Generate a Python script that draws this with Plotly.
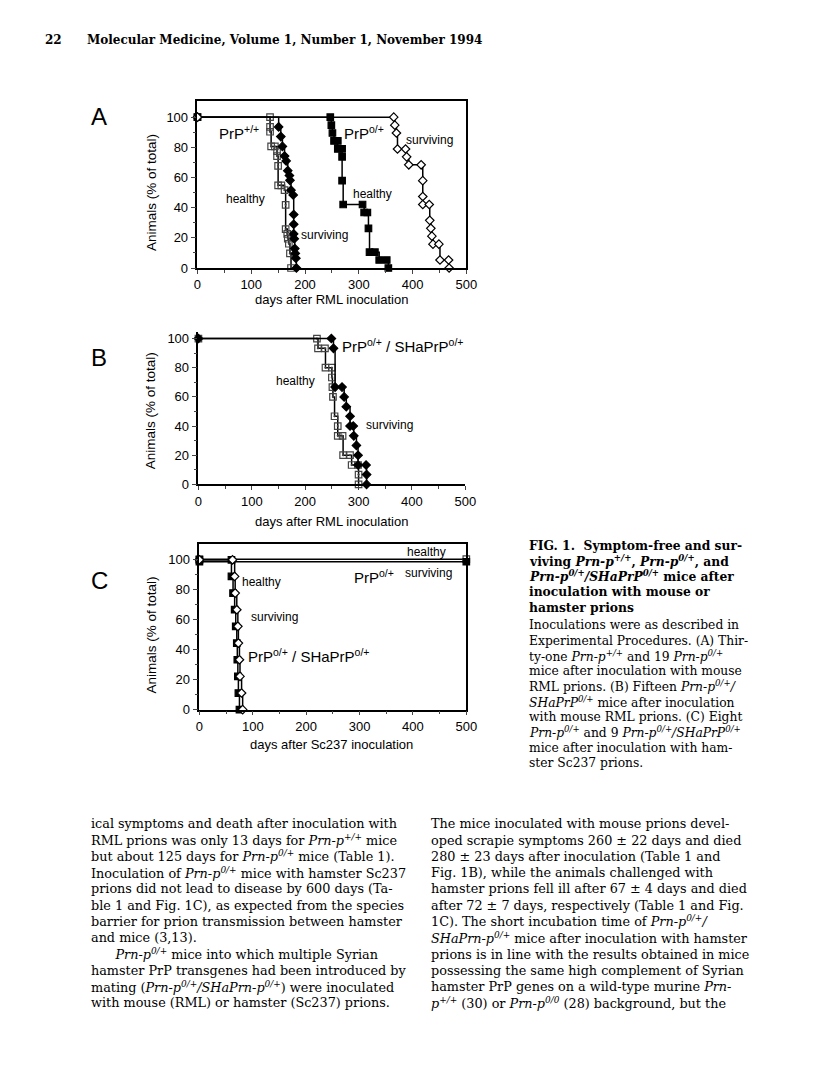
import plotly.graph_objs as go

# Panel A: PrP+/+ (31 mice) and PrP0/+ (19 mice), RML inoculation
a_wt_healthy_days = [0, 135, 135, 135, 137, 144, 148, 148, 150, 150, 156, 162, 164, 164, 167, 168, 170, 172, 174]
a_wt_healthy_pct = [100, 100, 93.5, 90.3, 80.6, 80.6, 77.4, 74.2, 67.7, 54.8, 54.8, 51.6, 41.9, 25.8, 22.6, 19.4, 16.1, 9.7, 0]
a_wt_surv_days = [0, 151, 155, 158, 162, 165, 168, 171, 172, 174, 178, 179, 179, 179, 180, 181, 182, 183, 184]
a_wt_surv_pct = [100, 93.5, 87.1, 80.6, 74.2, 71.0, 64.5, 61.3, 58.1, 51.6, 48.4, 35.5, 29.0, 22.6, 19.4, 12.9, 9.7, 6.5, 0]
a_ko_healthy_days = [0, 247, 249, 251, 254, 261, 261, 269, 269, 269, 271, 307, 310, 316, 318, 320, 330, 338, 352, 355]
a_ko_healthy_pct = [100, 100, 94.7, 89.5, 84.2, 84.2, 78.9, 78.9, 73.7, 57.9, 42.1, 42.1, 36.8, 36.8, 26.3, 10.5, 10.5, 5.3, 5.3, 0]
a_ko_surv_days = [0, 365, 367, 370, 372, 387, 389, 393, 416, 419, 419, 419, 431, 432, 434, 436, 438, 449, 451, 467, 468]
a_ko_surv_pct = [100, 100, 94.7, 89.5, 78.9, 78.9, 73.7, 68.4, 68.4, 57.9, 47.4, 42.1, 42.1, 31.6, 26.3, 21.1, 15.8, 15.8, 5.3, 5.3, 0]

# Panel B: PrP0/+ / SHaPrP0/+ (15 mice), RML inoculation
b_healthy_days = [0, 222, 224, 237, 238, 250, 250, 251, 252, 255, 261, 261, 270, 271, 284, 287, 299, 300, 300]
b_healthy_pct = [100, 100, 93.3, 93.3, 80, 80, 73.3, 66.7, 60, 46.7, 40, 33.3, 33.3, 20, 20, 13.3, 13.3, 6.7, 0]
b_surv_days = [0, 249, 253, 256, 269, 273, 277, 284, 284, 290, 291, 296, 299, 299, 314, 315, 315]
b_surv_pct = [100, 100, 93.3, 66.7, 66.7, 60, 53.3, 46.7, 40, 40, 33.3, 26.7, 20, 13.3, 13.3, 6.7, 0]

# Panel C: Sc237 inoculation
c_ko_healthy_days = [0, 500]
c_ko_healthy_pct = [100.4, 100.4]
c_ko_surv_days = [0, 500]
c_ko_surv_pct = [98.7, 98.7]
c_tg_healthy_days = [0, 60, 60, 63, 66, 68, 70, 71, 72, 73, 75]
c_tg_healthy_pct = [100, 100, 88.9, 77.8, 66.7, 55.6, 44.4, 33.3, 22.2, 11.1, 0]
c_tg_surv_days = [0, 62, 66, 67, 70, 72, 73, 75, 76, 79, 81]
c_tg_surv_pct = [100, 100, 88.9, 77.8, 66.7, 55.6, 44.4, 33.3, 22.2, 11.1, 0]

y_ticks = [0, 20, 40, 60, 80, 100]
x_ticks = [0, 100, 200, 300, 400, 500]

# the page body keeps its 8px margin; keep the figure small enough that the page does not scroll
W, H = 800, 1060
SANS = "Liberation Sans, Arial, sans-serif"
SERIF = "DejaVu Serif, Liberation Serif, serif"


def px(x):
    return (x - 8) / W


def py(y):
    return 1 - (y - 8) / H


def curve(xs, ys, symbol, axis, color="black", size=6.5):
    return go.Scatter(
        x=xs, y=ys, mode="lines+markers", line_shape="hv",
        line=dict(color="black", width=1.5),
        marker=dict(symbol=symbol, size=size, color=color,
                    line=dict(color="black", width=1.2)),
        xaxis="x" + axis, yaxis="y" + axis, cliponaxis=False, showlegend=False,
    )


traces = [
    curve(a_wt_healthy_days, a_wt_healthy_pct, "square-open-dot", "", color="#444"),
    curve(a_wt_surv_days, a_wt_surv_pct, "diamond", ""),
    curve(a_ko_healthy_days, a_ko_healthy_pct, "square", ""),
    curve(a_ko_surv_days, a_ko_surv_pct, "diamond", "", color="white"),
    curve(b_healthy_days, b_healthy_pct, "square-open-dot", "2", color="#444"),
    curve(b_surv_days, b_surv_pct, "diamond", "2"),
    curve(c_ko_healthy_days, c_ko_healthy_pct, "square-open-dot", "3", color="#444"),
    curve(c_ko_surv_days, c_ko_surv_pct, "square", "3"),
    curve(c_tg_healthy_days, c_tg_healthy_pct, "square", "3"),
    curve(c_tg_surv_days, c_tg_surv_pct, "diamond", "3", color="white"),
]


def xax(left, right, anchor, box):
    return dict(domain=[px(left), px(right)], range=[0, 500], anchor=anchor,
                tickvals=x_ticks, ticks="outside", ticklen=4, tickwidth=1.3,
                minor=dict(tickvals=[50, 150, 250, 350, 450], ticks="outside", ticklen=3),
                showline=True, linecolor="black", linewidth=1.5, mirror=box,
                showgrid=False, zeroline=False,
                tickfont=dict(family=SANS, size=13, color="black"))


def yax(bottom, top, ymax, anchor, box):
    return dict(domain=[py(bottom), py(top)], range=[0, ymax], anchor=anchor,
                tickvals=y_ticks, ticks="outside", ticklen=5, tickwidth=1.3,
                minor=dict(tickvals=[10, 30, 50, 70, 90], ticks="outside", ticklen=3),
                showline=True, linecolor="black", linewidth=1.5, mirror=box,
                showgrid=False, zeroline=False,
                tickfont=dict(family=SANS, size=13, color="black"))


layout = go.Layout(
    width=W, height=H, margin=dict(l=0, r=0, t=0, b=0),
    paper_bgcolor="white", plot_bgcolor="white",
    xaxis=xax(197, 471, "y", True), yaxis=yax(270, 102, 110.5, "x", True),
    xaxis2=xax(198, 470, "y2", False), yaxis2=yax(488, 334, 104.8, "x2", False),
    xaxis3=xax(199, 471, "y3", True), yaxis3=yax(715, 548, 110.6, "x3", True),
)

ann = []


def label(text, x, y, ax, size=12):
    ann.append(dict(text=text, x=x, y=y, xref="x" + ax, yref="y" + ax, showarrow=False,
                    font=dict(family=SANS, size=size, color="black")))


# in-plot labels
label("PrP<sup>+/+</sup>", 78, 90, "", 15)
label("healthy", 89, 46, "")
label("surviving", 237, 22, "")
label("PrP<sup>o/+</sup>", 310, 90, "", 15)
label("surviving", 432, 85, "")
label("healthy", 325, 49, "")
label("PrP<sup>o/+</sup> / SHaPrP<sup>o/+</sup>", 382, 95, "2", 15)
label("healthy", 182, 71, "2")
label("surviving", 357, 41, "2")
label("healthy", 116, 85, "3")
label("surviving", 140, 62, "3")
label("PrP<sup>o/+</sup> / SHaPrP<sup>o/+</sup>", 205, 36, "3", 15)
label("healthy", 425, 105, "3")
label("surviving", 430, 91, "3")
label("PrP<sup>o/+</sup>", 327, 89, "3", 15)


def text(t, x, y, size=13, family=SANS, anchor="left", angle=0):
    ann.append(dict(text=t, x=px(x), y=py(y), xref="paper", yref="paper", showarrow=False,
                    xanchor=anchor, yanchor="middle", textangle=angle,
                    font=dict(family=family, size=size, color="black")))


# panel letters, axis titles
for letter, y in [("A", 117), ("B", 360), ("C", 585)]:
    text(letter, 86, y, size=24)
for y in [194, 414, 640]:
    text("Animals (% of total)", 150, y, size=13.5, anchor="center", angle=-90)
text("days after RML inoculation", 334, 302, size=13, anchor="center")
text("days after RML inoculation", 334, 525, size=13, anchor="center")
text("days after Sc237 inoculation", 334, 750, size=13, anchor="center")

# running header
text("<b>22</b>", 40, 40, size=12, family=SERIF)
text("<b>Molecular Medicine, Volume 1, Number 1, November 1994</b>", 82, 40, size=12, family=SERIF)

# figure caption
caption = [
    "<b>FIG. 1.  Symptom-free and sur-</b>",
    "<b>viving <i>Prn-p<sup>+/+</sup></i>, <i>Prn-p<sup>0/+</sup></i>, and</b>",
    "<b><i>Prn-p<sup>0/+</sup>/SHaPrP<sup>0/+</sup></i> mice after</b>",
    "<b>inoculation with mouse or</b>",
    "<b>hamster prions</b>",
]
caption_body = [
    "Inoculations were as described in",
    "Experimental Procedures. (A) Thir-",
    "ty-one <i>Prn-p<sup>+/+</sup></i> and 19 <i>Prn-p<sup>0/+</sup></i>",
    "mice after inoculation with mouse",
    "RML prions. (B) Fifteen <i>Prn-p<sup>0/+</sup>/</i>",
    "<i>SHaPrP<sup>0/+</sup></i> mice after inoculation",
    "with mouse RML prions. (C) Eight",
    "<i>Prn-p<sup>0/+</sup></i> and 9 <i>Prn-p<sup>0/+</sup>/SHaPrP<sup>0/+</sup></i>",
    "mice after inoculation with ham-",
    "ster Sc237 prions.",
]
for i, line in enumerate(caption):
    text(line, 533, 550 + i * 15.4, size=12.3, family=SERIF)
for i, line in enumerate(caption_body):
    text(line, 533, 630 + i * 15.4, size=12.3, family=SERIF)

# body text columns
left_col = [
    "ical symptoms and death after inoculation with",
    "RML prions was only 13 days for <i>Prn-p<sup>+/+</sup></i> mice",
    "but about 125 days for <i>Prn-p<sup>0/+</sup></i> mice (Table 1).",
    "Inoculation of <i>Prn-p<sup>0/+</sup></i> mice with hamster Sc237",
    "prions did not lead to disease by 600 days (Ta-",
    "ble 1 and Fig. 1C), as expected from the species",
    "barrier for prion transmission between hamster",
    "and mice (3,13).",
    "      <i>Prn-p<sup>0/+</sup></i> mice into which multiple Syrian",
    "hamster PrP transgenes had been introduced by",
    "mating (<i>Prn-p<sup>0/+</sup>/SHaPrn-p<sup>0/+</sup></i>) were inoculated",
    "with mouse (RML) or hamster (Sc237) prions.",
]
right_col = [
    "The mice inoculated with mouse prions devel-",
    "oped scrapie symptoms 260 ± 22 days and died",
    "280 ± 23 days after inoculation (Table 1 and",
    "Fig. 1B), while the animals challenged with",
    "hamster prions fell ill after 67 ± 4 days and died",
    "after 72 ± 7 days, respectively (Table 1 and Fig.",
    "1C). The short incubation time of <i>Prn-p<sup>0/+</sup>/</i>",
    "<i>SHaPrn-p<sup>0/+</sup></i> mice after inoculation with hamster",
    "prions is in line with the results obtained in mice",
    "possessing the same high complement of Syrian",
    "hamster PrP genes on a wild-type murine <i>Prn-</i>",
    "<i>p<sup>+/+</sup></i> (30) or <i>Prn-p<sup>0/0</sup></i> (28) background, but the",
]
for i, line in enumerate(left_col):
    text(line, 86, 830 + i * 16.4, size=12.8, family=SERIF)
for i, line in enumerate(right_col):
    text(line, 433, 830 + i * 16.4, size=12.8, family=SERIF)

layout.annotations = ann

fig = go.Figure(data=traces, layout=layout)
fig.write_html("out.html")
